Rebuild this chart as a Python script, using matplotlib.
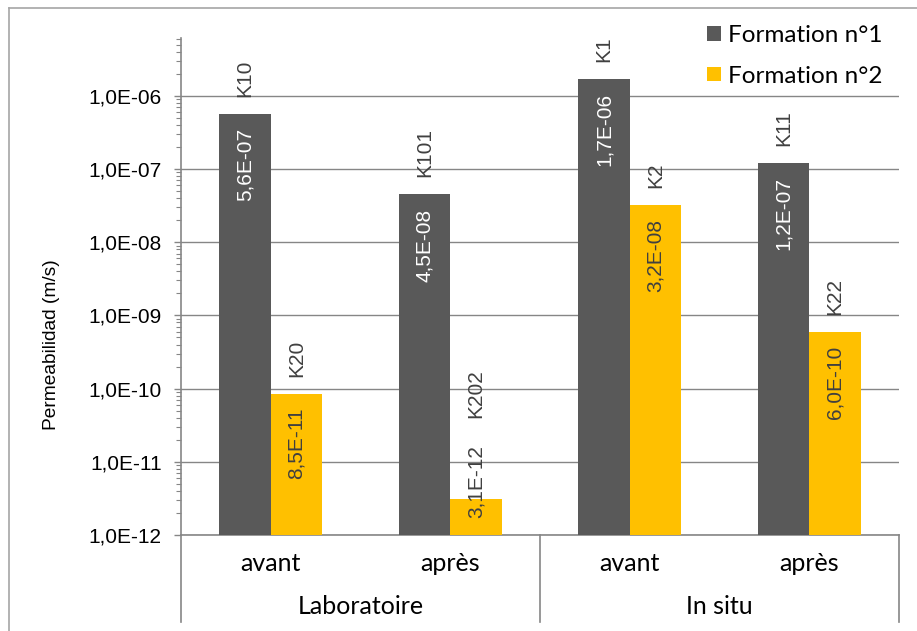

# permeability before/after, lab vs in situ, log scale bars
import numpy as np
import matplotlib
matplotlib.use('Agg')
import matplotlib.pyplot as plt
from matplotlib.ticker import FixedLocator, FuncFormatter, LogLocator, NullFormatter
from matplotlib.lines import Line2D

# data
groups = ['Laboratoire', 'In situ']
cats = ['avant', 'après', 'avant', 'après']
series = ['Formation n°1', 'Formation n°2']
f1_vals = [5.6e-7, 4.5e-8, 1.7e-6, 1.2e-7]
f2_vals = [8.5e-11, 3.1e-12, 3.2e-8, 6.0e-10]
f1_names = ['K10', 'K101', 'K1', 'K11']
f2_names = ['K20', 'K202', 'K2', 'K22']

dark = '#595959'
yellow = '#FFC000'
grey = '#868686'
txtgrey = '#404040'
arial = 'Liberation Sans'
calib = 'Lato'

W, H = 917, 631
fig = plt.figure(figsize=(W/100, H/100), dpi=100)
# plot area in pixels: x 181..899, y 38..535
ax = fig.add_axes([181/W, (H-535)/H, (899-181)/W, (535-38)/H])

ymin = 1e-12
ymax = 10**(-12 + (535-38)/73.2)

x = np.arange(len(cats))
w = 1/3.5
b1 = ax.bar(x - w/2, f1_vals, w, bottom=0, color=dark, label=series[0], zorder=3)
b2 = ax.bar(x + w/2, f2_vals, w, bottom=0, color=yellow, label=series[1], zorder=3)

ax.set_yscale('log')
ax.set_ylim(ymin, ymax)
ax.set_xlim(-0.5, len(cats) - 0.5)

def fmt(v, pos):
    e = int(round(np.log10(v)))
    return ('1,0E%+03d' % e)
ax.yaxis.set_major_locator(FixedLocator([10.0**k for k in range(-12, -5)]))
ax.yaxis.set_major_formatter(FuncFormatter(fmt))
ax.yaxis.set_minor_locator(LogLocator(base=10, subs=np.arange(2, 10), numticks=20))
ax.yaxis.set_minor_formatter(NullFormatter())
ax.tick_params(axis='y', which='major', length=5, width=1, color=grey, pad=9,
               labelsize=15, labelcolor='black')
ax.tick_params(axis='y', which='minor', length=3.5, width=0.8, color=grey)
for lab in ax.get_yticklabels():
    lab.set_fontfamily(arial)

ax.set_xticks(x)
ax.set_xticklabels(cats, fontfamily=calib, fontsize=18)
ax.tick_params(axis='x', length=0, pad=12)

ax.grid(axis='y', which='major', color=grey, lw=1, zorder=0)
for s in ['top', 'right']:
    ax.spines[s].set_visible(False)
ax.spines['left'].set_color(grey)
ax.spines['bottom'].set_color(grey)
ax.spines['left'].set_linewidth(1.2)
ax.spines['bottom'].set_linewidth(1.2)

# group separators and group labels under the axis
sep_y = -(622-535)/(535-38)
trans = ax.get_xaxis_transform()
for xs in [-0.5, 1.5, 3.5]:
    ax.plot([xs, xs], [0, sep_y], color=grey, lw=1.2, transform=trans, clip_on=False)
ax.text(0.5, -(607-535)/(535-38), groups[0], transform=trans, ha='center', va='center',
        fontfamily=calib, fontsize=18)
ax.text(2.5, -(607-535)/(535-38), groups[1], transform=trans, ha='center', va='center',
        fontfamily=calib, fontsize=18)

# value labels inside the bar tops, names above
px = 0.72  # points per pixel
def label_bars(xs, vals, names, incol):
    for xx, v, nm in zip(xs, vals, names):
        s = ('%.1E' % v).replace('.', ',')
        if np.log10(v/ymin) < 1.2:
            # too short: the label sits on the axis and runs above the bar
            ax.annotate(s, (xx, ymin), xytext=(0, 17*px), textcoords='offset points',
                        rotation=90, ha='center', va='bottom', fontsize=15,
                        fontfamily=arial, color=incol if incol != 'white' else txtgrey, zorder=5)
            ax.annotate(nm, (xx, ymin), xytext=(0, (17+75+25)*px), textcoords='offset points',
                        rotation=90, ha='center', va='bottom', fontsize=15,
                        fontfamily=arial, color=txtgrey, zorder=5)
        else:
            ax.annotate(s, (xx, v), xytext=(0, -14*px), textcoords='offset points',
                        rotation=90, ha='center', va='top', fontsize=15,
                        fontfamily=arial, color=incol, zorder=5)
            ax.annotate(nm, (xx, v), xytext=(0, 17*px), textcoords='offset points',
                        rotation=90, ha='center', va='bottom', fontsize=15,
                        fontfamily=arial, color=txtgrey, zorder=5)

label_bars(x - w/2, f1_vals, f1_names, 'white')
label_bars(x + w/2, f2_vals, f2_names, txtgrey)

fig.text(52/W, (H-345)/H, 'Permeabilidad (m/s)', rotation=90, ha='center', va='center',
         fontfamily=arial, fontsize=13.8)

leg = ax.legend(loc='upper left', bbox_to_anchor=(695/W, (H-13)/H), bbox_transform=fig.transFigure,
                frameon=False, handlelength=0.55, handleheight=0.55, handletextpad=0.3,
                labelspacing=0.8, borderpad=0, prop={'family': calib, 'size': 17.5})

# outer chart border (cropped on the right and bottom)
fig.add_artist(Line2D([9/W, 1], [1-8/H, 1-8/H], color='#a6a6a6', lw=1.2))
fig.add_artist(Line2D([9/W, 9/W], [0, 1-8/H], color='#a6a6a6', lw=1.2))

plt.savefig('out.png', dpi=100)
